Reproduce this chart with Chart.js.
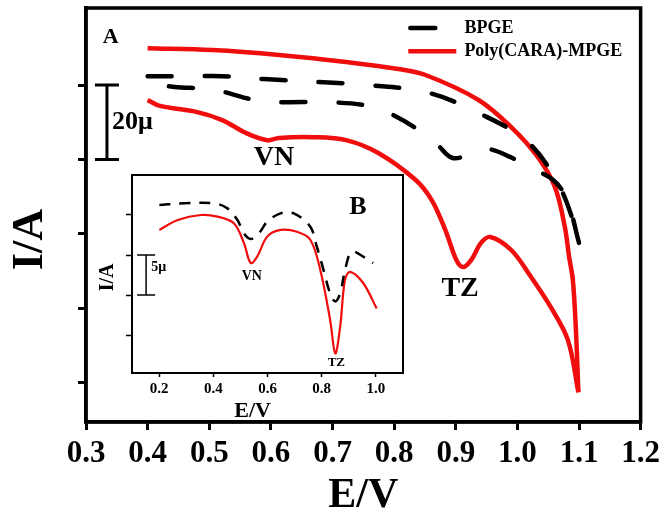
<!DOCTYPE html>
<html>
<head>
<meta charset="utf-8">
<script src="https://cdn.jsdelivr.net/npm/chart.js@4.4.1/dist/chart.umd.min.js"></script>
<style>
  html, body { margin: 0; padding: 0; background: #fff; }
  #wrap { position: relative; width: 665px; height: 511px; }
  #main { position: absolute; left: 0; top: 0; }
  #inset { position: absolute; left: 95px; top: 165px; }
</style>
</head>
<body>
<div id="wrap">
  <canvas id="main" width="665" height="511"></canvas>
  <canvas id="inset" width="320" height="262"></canvas>
</div>
<script>
// ---- main plot (A) ----
const xTicks = [0.3, 0.4, 0.5, 0.6, 0.7, 0.8, 0.9, 1.0, 1.1, 1.2];
const yTicks = [0, -20, -40, -60, -80];

// Poly(CARA)-MPGE, forward (upper) branch
const polyFwdE = [0.400, 0.505, 0.613, 0.722, 0.807, 0.851, 0.937, 0.990, 1.033, 1.061, 1.077, 1.084, 1.090, 1.095, 1.099];
const polyFwdI = [9.9, 9.4, 8.1, 6.2, 4.3, 2.7, -4.0, -11.3, -19.3, -27.4, -38.1, -46.2, -52.3, -65.8, -82.5];
// Poly(CARA)-MPGE, reverse (lower) branch
const polyRevE = [1.099, 1.082, 1.054, 1.022, 0.990, 0.956, 0.941, 0.925, 0.912, 0.901, 0.883, 0.861, 0.835, 0.775, 0.722, 0.667, 0.613, 0.594, 0.560, 0.521, 0.479, 0.420, 0.400];
const polyRevI = [-82.5, -68.5, -59.6, -51.5, -44.3, -40.8, -42.4, -47.0, -48.9, -47.0, -38.9, -30.9, -25.5, -18.3, -14.8, -14.0, -14.2, -14.8, -12.9, -9.4, -7.2, -5.6, -4.0];

// BPGE
const bpgeFwdE = [0.400, 0.476, 0.521, 0.589, 0.678, 0.759, 0.856, 0.937, 1.017, 1.067, 1.095, 1.100];
const bpgeFwdI = [2.4, 2.4, 2.4, 1.6, 0.8, 0, -2.1, -7.5, -15.3, -26.8, -38.7, -42.4];
const bpgeRevE = [1.100, 1.080, 1.058, 1.022, 0.988, 0.953, 0.928, 0.895, 0.870, 0.840, 0.799, 0.759, 0.694, 0.621, 0.581, 0.508, 0.444, 0.400];
const bpgeRevI = [-42.4, -30.5, -25.5, -22.3, -19.3, -17.2, -18.3, -19.6, -16.0, -12.1, -8.1, -5.6, -4.6, -4.6, -4.3, -1.3, -0.5, 0.3];

// ---- inset (B) ----
const xInsetTicks = [0.2, 0.4, 0.6, 0.8, 1.0];
const yInsetTicks = [0, -5, -10, -15];
const insetPolyE = [0.201, 0.269, 0.354, 0.415, 0.476, 0.513, 0.538, 0.562, 0.599, 0.648, 0.709, 0.758, 0.795, 0.831, 0.850, 0.868, 0.886, 0.905, 0.953, 1.003];
const insetPolyI = [-1.87, -0.62, 0, -0.2, -1.04, -3.5, -6.0, -5.2, -2.7, -1.87, -2.1, -3.1, -6.9, -13.1, -17.3, -14.0, -8.1, -7.1, -8.5, -11.7];
const insetBpgeE = [0.201, 0.293, 0.403, 0.452, 0.489, 0.513, 0.538, 0.568, 0.599, 0.648, 0.697, 0.758, 0.782, 0.807, 0.831, 0.850, 0.868, 0.886, 0.911, 0.953, 0.990];
const insetBpgeI = [1.25, 1.46, 1.46, 0.83, -0.62, -2.3, -3.0, -2.3, -0.83, 0.2, 0.2, -1.46, -3.96, -6.9, -9.8, -10.8, -9.8, -6.9, -4.6, -5.2, -6.0];

const SERIF = "'Liberation Serif', 'Times New Roman', serif";
const RED = '#f00d0d';

function pts(xs, ys) {
  return xs.map((x, i) => ({ x: x, y: ys[i] }));
}

function text(ctx, str, px, py, size, align, rot) {
  ctx.save();
  ctx.font = 'bold ' + size + 'px ' + SERIF;
  ctx.fillStyle = '#000';
  ctx.textAlign = align || 'center';
  ctx.textBaseline = 'middle';
  ctx.translate(px, py);
  if (rot) ctx.rotate(rot);
  ctx.fillText(str, 0, 0);
  ctx.restore();
}

function scaleBar(ctx, px, top, bottom, cap, w) {
  ctx.strokeStyle = '#000';
  ctx.lineWidth = w;
  ctx.lineCap = 'butt';
  ctx.beginPath();
  ctx.moveTo(px, top); ctx.lineTo(px, bottom);
  ctx.moveTo(px - cap, top); ctx.lineTo(px + cap, top);
  ctx.moveTo(px - cap, bottom); ctx.lineTo(px + cap, bottom);
  ctx.stroke();
}

const mainDeco = {
  id: 'mainDeco',
  afterDraw(chart) {
    const { ctx, chartArea: a, scales: { x, y } } = chart;
    ctx.save();
    ctx.strokeStyle = '#000';
    ctx.lineWidth = 3.5;
    ctx.strokeRect(a.left, a.top, a.right - a.left, a.bottom - a.top);

    // axis titles
    text(ctx, 'E/V', (a.left + a.right) / 2, 496, 42);
    text(ctx, 'I/A', 31, y.getPixelForValue(-41.5), 44, 'center', -Math.PI / 2);

    text(ctx, 'A', x.getPixelForValue(0.340), y.getPixelForValue(12.9), 22);
    scaleBar(ctx, x.getPixelForValue(0.334), y.getPixelForValue(0), y.getPixelForValue(-20), 12, 3);
    text(ctx, '20\u03bc', x.getPixelForValue(0.342), y.getPixelForValue(-9.9), 26, 'left');
    text(ctx, 'VN', x.getPixelForValue(0.605), y.getPixelForValue(-19.6), 28);
    text(ctx, 'TZ', x.getPixelForValue(0.907), y.getPixelForValue(-54.8), 28);

    // legend
    const ly1 = y.getPixelForValue(15.3), ly2 = y.getPixelForValue(9.1);
    const lx0 = x.getPixelForValue(0.823);
    ctx.lineWidth = 4.5;
    ctx.strokeStyle = '#000';
    ctx.lineCap = 'round';
    ctx.beginPath(); ctx.moveTo(lx0 + 2, ly1); ctx.lineTo(lx0 + 27, ly1); ctx.stroke();
    ctx.strokeStyle = RED;
    ctx.lineCap = 'butt';
    ctx.beginPath(); ctx.moveTo(lx0, ly2); ctx.lineTo(lx0 + 48, ly2); ctx.stroke();
    const tx = x.getPixelForValue(0.914);
    text(ctx, 'BPGE', tx, ly1, 18, 'left');
    text(ctx, 'Poly(CARA)-MPGE', tx, ly2, 18, 'left');
    ctx.restore();
  }
};

const insetDeco = {
  id: 'insetDeco',
  afterDraw(chart) {
    const { ctx, chartArea: a, scales: { x, y } } = chart;
    ctx.save();
    ctx.strokeStyle = '#000';
    ctx.lineWidth = 2;
    ctx.strokeRect(a.left, a.top, a.right - a.left, a.bottom - a.top);
    text(ctx, 'E/V', x.getPixelForValue(0.545), 246, 22);
    text(ctx, 'I/A', 13, y.getPixelForValue(-7.8), 20, 'center', -Math.PI / 2);
    text(ctx, 'B', x.getPixelForValue(0.934), y.getPixelForValue(1.0), 26);
    text(ctx, 'VN', x.getPixelForValue(0.542), y.getPixelForValue(-7.7), 14);
    text(ctx, 'TZ', x.getPixelForValue(0.854), y.getPixelForValue(-18.5), 13);
    scaleBar(ctx, x.getPixelForValue(0.152), y.getPixelForValue(-5), y.getPixelForValue(-10), 9, 1.5);
    text(ctx, '5\u03bc', x.getPixelForValue(0.171), y.getPixelForValue(-6.6), 14, 'left');
    ctx.restore();
  }
};

const redLine = { borderColor: RED, borderWidth: 4.5, pointRadius: 0, tension: 0.35, fill: false };
const blackDash = { borderColor: '#000', borderWidth: 4.5, borderDash: [24, 33], borderCapStyle: 'round', pointRadius: 0, tension: 0.35, fill: false };

new Chart(document.getElementById('main').getContext('2d'), {
  type: 'line',
  data: {
    datasets: [
      Object.assign({ label: 'BPGE', data: pts(bpgeFwdE, bpgeFwdI) }, blackDash),
      Object.assign({ label: 'BPGE reverse', data: pts(bpgeRevE, bpgeRevI) }, blackDash),
      Object.assign({ label: 'Poly(CARA)-MPGE', data: pts(polyFwdE, polyFwdI) }, redLine),
      Object.assign({ label: 'Poly(CARA)-MPGE reverse', data: pts(polyRevE, polyRevI) }, redLine)
    ]
  },
  options: {
    responsive: false,
    animation: false,
    layout: { padding: { top: 8, right: 22, left: 0, bottom: 0 } },
    plugins: { legend: { display: false }, tooltip: { enabled: false } },
    scales: {
      x: {
        type: 'linear', min: 0.3, max: 1.2,
        afterBuildTicks: (s) => { s.ticks = xTicks.map(v => ({ value: v })); },
        afterFit: (s) => { s.height = 89; },
        ticks: { color: '#000', padding: 5, font: { family: SERIF, size: 31, weight: 'bold' }, callback: (v) => v.toFixed(1) },
        grid: { drawOnChartArea: false, tickLength: 8, tickWidth: 3, color: '#000' },
        border: { display: true, color: '#000', width: 3.5 }
      },
      y: {
        type: 'linear', min: -90.5, max: 20.7,
        afterBuildTicks: (s) => { s.ticks = yTicks.map(v => ({ value: v })); },
        afterFit: (s) => { s.width = 86; },
        ticks: { display: false },
        grid: { drawOnChartArea: false, tickLength: 8, tickWidth: 3, color: '#000' },
        border: { display: true, color: '#000', width: 3.5 }
      }
    }
  },
  plugins: [mainDeco]
});

new Chart(document.getElementById('inset').getContext('2d'), {
  type: 'line',
  data: {
    datasets: [
      { label: 'BPGE', data: pts(insetBpgeE, insetBpgeI), borderColor: '#000', borderWidth: 2.5, borderDash: [11, 9], pointRadius: 0, tension: 0.35, fill: false },
      { label: 'Poly(CARA)-MPGE', data: pts(insetPolyE, insetPolyI), borderColor: RED, borderWidth: 2.2, pointRadius: 0, tension: 0.35, fill: false }
    ]
  },
  options: {
    responsive: false,
    animation: false,
    layout: { padding: { top: 10, right: 12, left: 0, bottom: 0 } },
    plugins: { legend: { display: false }, tooltip: { enabled: false } },
    scales: {
      x: {
        type: 'linear', min: 0.1, max: 1.1,
        afterBuildTicks: (s) => { s.ticks = xInsetTicks.map(v => ({ value: v })); },
        afterFit: (s) => { s.height = 54; },
        ticks: { color: '#000', padding: 3, font: { family: SERIF, size: 15, weight: 'bold' }, callback: (v) => v.toFixed(1) },
        grid: { drawOnChartArea: false, tickLength: 4, tickWidth: 1.5, color: '#000' },
        border: { display: true, color: '#000', width: 2 }
      },
      y: {
        type: 'linear', min: -19.75, max: 5,
        afterBuildTicks: (s) => { s.ticks = yInsetTicks.map(v => ({ value: v })); },
        afterFit: (s) => { s.width = 37; },
        ticks: { display: false },
        grid: { drawOnChartArea: false, tickLength: 6, tickWidth: 1.5, color: '#000' },
        border: { display: true, color: '#000', width: 2 }
      }
    }
  },
  plugins: [insetDeco]
});
</script>
</body>
</html>
